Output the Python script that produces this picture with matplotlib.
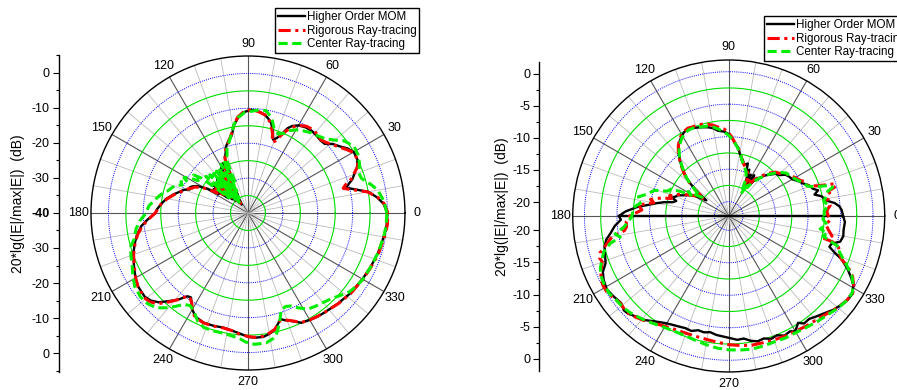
import numpy as np
import matplotlib
matplotlib.use('Agg')
import matplotlib.pyplot as plt
from matplotlib.lines import Line2D

plt.rcParams['font.family'] = ['Liberation Sans', 'DejaVu Sans']

# ---------------------------------------------------------------------------
# Left pattern (angles in degrees, values in dB)
# ---------------------------------------------------------------------------
L_ANG = [0, 4, 7, 10, 12, 14.5, 16, 18, 20, 23, 26, 30,
         33, 36, 39, 42, 45, 48, 52, 56, 60,
         63, 65, 67, 69, 71, 73, 76, 80, 84, 88,
         92, 96, 99, 102, 105, 108, 111, 113,
         115, 117, 119, 121, 123, 125, 127, 129, 131, 133, 135, 137, 139, 141, 143, 145, 147, 149,
         152, 154, 156, 158, 160, 162, 166, 170, 174, 178, 180,
         184, 187, 191, 195, 200, 206, 210, 214, 219, 222,
         225, 228, 231, 234, 236, 238, 240, 243, 248, 253,
         258, 262, 266, 270, 273, 277, 280, 283, 285, 287,
         289, 292, 296, 300, 304, 308, 315, 322, 330, 336,
         343, 350, 355, 360]
L_MOM_DB = [0.0, -1.1, -2.8, -5.0, -8.0, -11.0, -10.0, -8.5, -7.6, -6.0, -5.1, -5.0,
            -6.0, -7.5, -8.6, -10.4, -10.6, -10.4, -10.2, -10.4, -11.0,
            -12.0, -13.2, -15.6, -17.0, -17.8, -15.5, -13.0, -11.5, -10.7, -10.4,
            -11.0, -12.6, -14.5, -17.4, -18.5, -19.8, -22.0, -23.0,
            -30, -24, -34, -25, -36, -26, -37, -27, -36, -27, -35, -28, -34, -27, -33, -28, -30, -26.5,
            -23.5, -22.5, -21.8, -22.0, -20.5, -19.8, -18.0, -16.3, -15.0, -13.8, -13.5,
            -11.0, -9.2, -7.6, -6.4, -5.0, -3.7, -2.8, -2.1, -1.9, -2.5,
            -3.8, -6.0, -8.0, -10.5, -10.8, -9.5, -8.1, -6.7, -6.1, -6.2,
            -6.4, -6.0, -5.4, -4.5, -4.2, -4.2, -4.8, -5.7, -7.0, -8.2,
            -7.5, -6.6, -5.0, -4.6, -4.2, -4.0, -3.4, -2.7, -2.1, -1.6,
            -1.0, -0.5, -0.1, 0.0]
L_RIG_DB = [0.1, -0.9, -2.6, -5.2, -8.5, -11.8, -11.0, -9.0, -7.8, -5.8, -5.0, -5.2,
            -6.5, -7.8, -8.8, -9.8, -10.4, -10.0, -9.7, -10.0, -11.0,
            -12.5, -14.0, -15.8, -17.8, -18.6, -16.0, -13.3, -11.5, -10.8, -10.3,
            -10.8, -12.3, -14.3, -17.0, -18.7, -20.0, -21.6, -23.2,
            -29, -24.5, -33, -25.5, -35, -26, -36.5, -27.5, -35.5, -27, -34, -28.5, -33, -27.5, -32, -28.5, -29.5, -26.5,
            -24.5, -23.0, -22.5, -21.5, -21.0, -20.0, -18.2, -16.5, -15.0, -14.0, -13.4,
            -11.2, -9.5, -7.8, -6.5, -5.1, -3.8, -2.8, -2.0, -1.6, -2.0,
            -3.2, -5.6, -8.0, -10.6, -10.4, -9.6, -8.0, -6.5, -6.0, -6.1,
            -6.3, -6.0, -5.2, -4.6, -4.3, -4.4, -5.0, -5.8, -7.0, -8.0,
            -7.6, -6.7, -5.1, -4.6, -4.3, -4.0, -3.3, -2.6, -2.0, -1.5,
            -0.8, -0.3, 0.1, 0.1]
L_CEN_ANG = [0, 5, 10, 13, 15, 17, 20, 24, 28, 32,
             35, 37, 40, 44, 48, 52, 56, 60, 63, 66,
             69, 71, 73, 75, 77, 80, 84, 88, 92, 96,
             99, 102, 105, 108, 110, 112,
             113, 115, 117, 119, 121, 123, 125, 127, 129, 131, 133, 135, 137, 139, 141, 143, 145,
             147, 149, 151, 153, 155, 157, 159, 162, 165, 168, 172, 176, 180,
             184, 188, 193, 196, 200, 205, 209, 213, 218, 222,
             226, 229, 232, 235, 238, 241, 245, 249, 254, 259,
             263, 266, 269, 273, 278, 281, 283, 286, 289, 292,
             295, 298, 302, 306, 310, 314, 318, 322, 326, 330,
             336, 343, 350, 355, 360]
L_CEN_DB = [-0.2, -0.9, -2.2, -3.8, -5.0, -6.0, -6.2, -5.0, -4.3, -4.1,
            -5.0, -5.6, -7.5, -9.3, -10.2, -10.8, -11.6, -12.5, -13.5, -15.0,
            -15.8, -15.0, -14.5, -12.8, -11.5, -10.2, -10.3, -10.8, -11.2, -12.5,
            -14.3, -17.0, -19.0, -20.5, -22.5, -23.0,
            -31, -23.5, -33, -24, -35, -24.5, -36, -25, -36, -25, -35, -24.5, -34, -24, -33, -23.5, -21.0,
            -23.0, -20.5, -19.0, -20.5, -18.8, -19.5, -17.8, -16.9, -16.0, -14.5, -13.0, -11.5, -10.8,
            -9.0, -7.6, -6.5, -5.0, -4.3, -3.4, -2.3, -1.3, -0.9, -1.2,
            -2.2, -4.0, -6.0, -8.0, -8.7, -8.0, -5.8, -4.8, -4.8, -4.8,
            -4.4, -4.0, -3.0, -2.3, -2.4, -3.2, -4.0, -7.2, -10.7, -11.1,
            -10.6, -9.2, -7.5, -7.0, -6.5, -5.8, -4.6, -3.2, -2.5, -2.0,
            -1.6, -1.0, -0.5, -0.2, -0.2]

# ---------------------------------------------------------------------------
# Right pattern, upper half (0..180) and lower half (180..360)
# ---------------------------------------------------------------------------
R_MOM_UP_ANG = [0, 3, 5, 7, 9, 12, 14, 16, 18, 21,
                24, 26, 30, 33, 36, 39, 42, 45, 48, 51,
                54, 56, 58, 60, 62, 64, 66, 68, 70, 73,
                76, 79, 82, 85, 88, 90, 93, 97, 100, 103,
                106, 109, 112, 115, 118, 121, 124, 126, 129, 132,
                135, 138, 140, 143, 145, 147, 149, 151, 153, 156,
                158, 160, 162, 164, 166, 168, 170, 172, 174.5, 177.5,
                180]
R_MOM_UP_DB = [-4.6, -4.8, -5.1, -5.8, -7.0, -7.6, -8.6, -7.9, -8.6, -9.0,
               -9.8, -10.1, -10.9, -11.1, -11.4, -12.2, -12.5, -13.2, -13.8, -14.6,
               -15.2, -16.5, -14.8, -16.8, -15.0, -16.2, -14.4, -15.0, -13.6, -14.0,
               -13.3, -12.8, -11.6, -11.0, -10.0, -9.6, -9.2, -9.0, -8.5, -8.2,
               -8.0, -7.8, -7.6, -7.4, -7.6, -8.0, -8.6, -9.0, -10.0, -11.1,
               -12.3, -13.5, -14.6, -16.5, -18.0, -17.2, -16.2, -15.8, -15.1, -14.4,
               -13.7, -13.5, -13.0, -13.8, -13.4, -12.0, -10.9, -9.8, -8.0, -6.3,
               -5.3]
R_MOM_LO_ANG = [180, 182, 185, 188, 191, 194, 197, 201, 204, 207,
                211, 215, 219, 222, 224, 227, 231, 235, 239, 242,
                245, 249, 252, 255, 258, 261, 264, 268, 271, 274,
                277, 280, 283, 286, 289, 292, 295, 298, 300, 303,
                305, 308, 311, 314, 318, 322, 325, 328, 331, 333,
                336, 339, 341, 343, 345, 347, 350, 353, 357, 360]
R_MOM_LO_DB = [-5.3, -5.6, -4.6, -3.9, -3.0, -2.5, -2.3, -1.9, -1.0, -0.6,
               -0.3, -0.6, -0.9, -0.5, -0.6, -1.1, -1.6, -2.4, -3.0, -3.3,
               -3.5, -3.7, -3.6, -4.0, -3.9, -4.1, -3.8, -3.6, -3.4, -3.1,
               -3.2, -2.7, -2.4, -2.6, -2.2, -2.4, -1.9, -2.1, -1.7, -2.6,
               -2.0, -2.1, -1.7, -1.3, -0.6, -0.1, 0.2, 0.3, -0.3, -1.0,
               -2.2, -3.6, -5.0, -6.0, -5.8, -4.6, -4.3, -4.4, -4.3, -4.6]

R_RIG_UP_ANG = [0, 3, 6, 9, 12, 14, 15.5, 17, 19, 21,
                24, 27, 30, 34, 37, 40, 43, 46, 49, 52,
                55, 57, 59, 61, 63, 66, 69, 72, 76, 80,
                84, 88, 90, 93, 97, 100, 103, 106, 109, 112,
                115, 118, 121, 124, 126, 129, 132, 135, 138, 140,
                143, 145, 147, 150, 153, 156, 159, 161, 163, 165,
                168, 170, 173, 176, 180]
R_RIG_UP_DB = [-6.9, -7.1, -6.5, -6.8, -6.2, -6.4, -5.0, -5.3, -8.0, -9.2,
               -9.3, -10.0, -10.4, -10.9, -11.3, -12.0, -12.3, -13.0, -13.8, -14.6,
               -15.4, -16.4, -15.6, -17.2, -16.0, -15.0, -14.6, -14.2, -13.5, -12.2,
               -11.2, -10.0, -9.4, -8.8, -8.4, -8.0, -7.7, -7.5, -7.4, -7.4,
               -7.3, -7.5, -7.9, -8.5, -9.0, -9.9, -11.0, -12.2, -13.3, -14.4,
               -16.2, -17.6, -16.8, -15.9, -15.0, -14.0, -13.2, -12.6, -13.0, -11.5,
               -9.9, -10.5, -8.2, -8.8, -7.0]
R_RIG_LO_ANG = [180, 183, 186, 188, 190, 193, 196, 198, 200, 203,
                206, 209, 212, 215, 219, 223, 227, 231, 235, 240,
                245, 250, 255, 260, 265, 270, 275, 280, 285, 290,
                295, 300, 305, 310, 315, 320, 324, 328, 331, 334,
                337, 339, 341, 344, 346, 347, 349, 352, 355, 358,
                360]
R_RIG_LO_DB = [-7.0, -6.4, -6.4, -6.0, -4.0, -2.9, -1.6, -1.3, -1.5, -0.9,
               -0.3, -0.1, -0.1, -0.4, -0.8, -0.6, -1.0, -1.5, -2.1, -2.6,
               -2.9, -3.0, -3.0, -2.9, -2.7, -2.4, -2.2, -2.0, -2.0, -1.9,
               -1.8, -1.7, -1.5, -1.3, -0.9, -0.3, 0.1, 0.3, -0.2, -1.0,
               -2.3, -3.6, -4.2, -4.6, -5.7, -7.6, -6.0, -6.7, -7.2, -6.5,
               -6.9]

R_CEN_UP_ANG = [0, 3, 6, 9, 12, 14, 15.5, 17, 19, 21,
                24, 27, 30, 34, 37, 40, 43, 46, 49, 52,
                55, 57, 59, 61, 63, 65, 68, 71, 75, 79,
                83, 87, 90, 93, 97, 100, 103, 106, 109, 112,
                115, 118, 121, 124, 126, 129, 132, 135, 138, 140,
                143, 145, 147, 149, 151, 153, 155, 158, 161, 165,
                168, 171, 175, 180]
R_CEN_UP_DB = [-7.5, -7.5, -6.8, -7.4, -6.8, -6.5, -5.6, -6.2, -8.4, -9.3,
               -9.6, -10.2, -10.6, -11.0, -11.2, -11.8, -12.5, -13.3, -14.2, -15.0,
               -16.0, -17.0, -16.3, -18.3, -17.5, -16.0, -15.0, -14.5, -13.8, -12.6,
               -11.5, -10.4, -9.8, -9.3, -8.7, -8.3, -8.0, -7.9, -7.8, -7.6,
               -7.6, -7.8, -8.2, -8.8, -9.2, -10.1, -11.2, -12.4, -13.5, -14.5,
               -16.0, -17.2, -16.4, -14.9, -15.6, -13.9, -12.4, -12.0, -10.1, -9.2,
               -8.0, -8.6, -7.5, -7.3]
R_CEN_LO_ANG = [180, 183, 186, 189, 191, 193, 196, 199, 202, 205,
                209, 213, 217, 221, 225, 230, 235, 240, 245, 250,
                255, 260, 265, 270, 275, 280, 285, 290, 295, 300,
                305, 310, 315, 320, 324, 328, 331, 334, 337, 340,
                342, 344, 346, 348, 350, 352, 355, 358, 360]
R_CEN_LO_DB = [-7.3, -6.8, -6.0, -4.5, -5.2, -3.5, -2.2, -1.6, -0.9, -0.5,
               -0.3, -0.3, -0.6, -0.7, -1.0, -1.5, -2.0, -2.4, -2.6, -2.6,
               -2.4, -2.1, -1.8, -1.6, -1.5, -1.4, -1.5, -1.6, -1.5, -1.5,
               -1.3, -1.0, -0.7, -0.2, 0.1, 0.2, -0.3, -1.1, -2.4, -3.6,
               -4.3, -4.4, -6.0, -7.4, -6.8, -8.0, -7.0, -7.7, -7.5]

# radial scale settings
L_RLIM = (-40, 5)
L_BLUE = [-30, -20, -10, 0]
L_GREEN = [-35, -25, -15, -5]
L_TICKS = [0, -10, -20, -30, -40]
R_RLIM = (-22.2, 1.8)
R_BLUE = [-20, -15, -10, -5, 0]
R_GREEN = [-17.5, -12.5, -7.5, -2.5]
R_TICKS = [0, -5, -10, -15, -20]

NAMES = ['Higher Order MOM', 'Rigorous Ray-tracing', 'Center Ray-tracing']
STY_MOM = dict(color='black', lw=1.7, ls='-')
STY_RIG = dict(color='#ff0000', lw=2.2, ls=(0, (4, 1.5, 1, 1.5)))
STY_CEN = dict(color='#00ee00', lw=2.2, ls=(0, (3, 1.5)))

fig = plt.figure(figsize=(8.97, 3.90), dpi=100)


def polar_frame(rect, rlim, blue, green):
    ax = fig.add_axes(rect, projection='polar')
    ax.set_ylim(*rlim)
    ax.grid(False)
    ax.set_yticks([])
    ax.set_xticks(np.deg2rad(np.arange(0, 360, 30)))
    ax.set_xticklabels([str(a) for a in range(0, 360, 30)], fontsize=9)
    ax.tick_params(axis='x', pad=2, length=0)
    full = np.linspace(0, 2 * np.pi, 721)
    for a in range(0, 360, 10):
        t = np.deg2rad(a)
        dark = a % 30 == 0
        ax.plot([t, t], list(rlim), color='#555555' if dark else '#bbbbbb',
                lw=0.8 if dark else 0.6, zorder=1)
    for r in blue:
        ax.plot(full, np.full_like(full, r), color='blue', ls=(0, (1, 1.2)), lw=0.7, zorder=1.5)
    for r in green:
        ax.plot(full, np.full_like(full, r), color='#00dd00', lw=0.8, zorder=1.5)
    ax.spines['polar'].set_linewidth(1.0)
    return ax


def side_axis(rect, center_db, lim, ticks_db, step):
    sx = fig.add_axes(rect)
    sx.patch.set_alpha(0)
    sx.set_ylim(*lim)
    sx.set_xticks([])
    for s in ['top', 'right', 'bottom']:
        sx.spines[s].set_visible(False)
    sx.spines['left'].set_linewidth(1.0)
    pos, lab = [], []
    for d in ticks_db:
        q = d - center_db
        pos.append(q)
        lab.append(str(d))
        if q > 0.5:
            pos.append(-q)
            lab.append(str(d))
    sx.set_yticks(pos)
    sx.set_yticklabels(lab, fontsize=9)
    minor = []
    for d in ticks_db:
        q = d - center_db + step / 2
        if q < lim[1]:
            minor += [q, -q]
    sx.set_yticks(minor, minor=True)
    sx.tick_params(axis='y', which='major', length=4.5, width=0.8, pad=2)
    sx.tick_params(axis='y', which='minor', length=2.5, width=0.8)
    return sx


# left pattern
axL = polar_frame([0.1014, 0.0513, 0.3501, 0.8051], L_RLIM, L_BLUE, L_GREEN)
axL.plot(np.deg2rad(L_ANG), L_MOM_DB, zorder=3, **STY_MOM)
axL.plot(np.deg2rad(L_ANG), L_RIG_DB, zorder=4, **STY_RIG)
axL.plot(np.deg2rad(L_CEN_ANG), L_CEN_DB, zorder=5, **STY_CEN)

sL = side_axis([0.0654, 0.0462, 0.001, 0.8128], -40, (-45.4, 45.1), L_TICKS, 10)
for t in sL.get_yticklabels():
    if t.get_text() == '-40':
        t.set_fontweight('bold')

# right pattern; the MOM trace jumps 0 -> 180 straight through the centre
axR = polar_frame([0.6385, 0.0462, 0.3478, 0.8], R_RLIM, R_BLUE, R_GREEN)
mom_ang = R_MOM_LO_ANG + R_MOM_UP_ANG[::-1]
mom_db = R_MOM_LO_DB + R_MOM_UP_DB[::-1]
axR.plot(np.deg2rad(mom_ang), mom_db, zorder=3, **STY_MOM)
axR.plot(np.deg2rad(R_RIG_UP_ANG + R_RIG_LO_ANG), R_RIG_UP_DB + R_RIG_LO_DB, zorder=4, **STY_RIG)
axR.plot(np.deg2rad(R_CEN_UP_ANG + R_CEN_LO_ANG), R_CEN_UP_DB + R_CEN_LO_DB, zorder=5, **STY_CEN)

side_axis([0.6012, 0.0487, 0.001, 0.7923], -22.2, (-24.1, 24.0), R_TICKS, 5)

ylab = '20*lg(|E|/max|E|)  (dB)'
fig.text(18 / 897, 0.477, ylab, rotation=90, ha='center', va='center', fontsize=10)
fig.text(502 / 897, 0.4705, ylab, rotation=90, ha='center', va='center', fontsize=10)

handles = [Line2D([], [], **STY_MOM), Line2D([], [], **STY_RIG), Line2D([], [], **STY_CEN)]
for x0, y0 in [(275 / 897, 382 / 390), (764 / 897, 374 / 390)]:
    leg = fig.legend(handles, NAMES, loc='upper left', bbox_to_anchor=(x0, y0),
                     fontsize=8.4, frameon=True, fancybox=False, edgecolor='black',
                     framealpha=1, borderpad=0.25, labelspacing=0.15,
                     handlelength=2.3, handletextpad=0.15, borderaxespad=0)
    leg.get_frame().set_linewidth(1.0)

fig.savefig('out.png', dpi=100)
